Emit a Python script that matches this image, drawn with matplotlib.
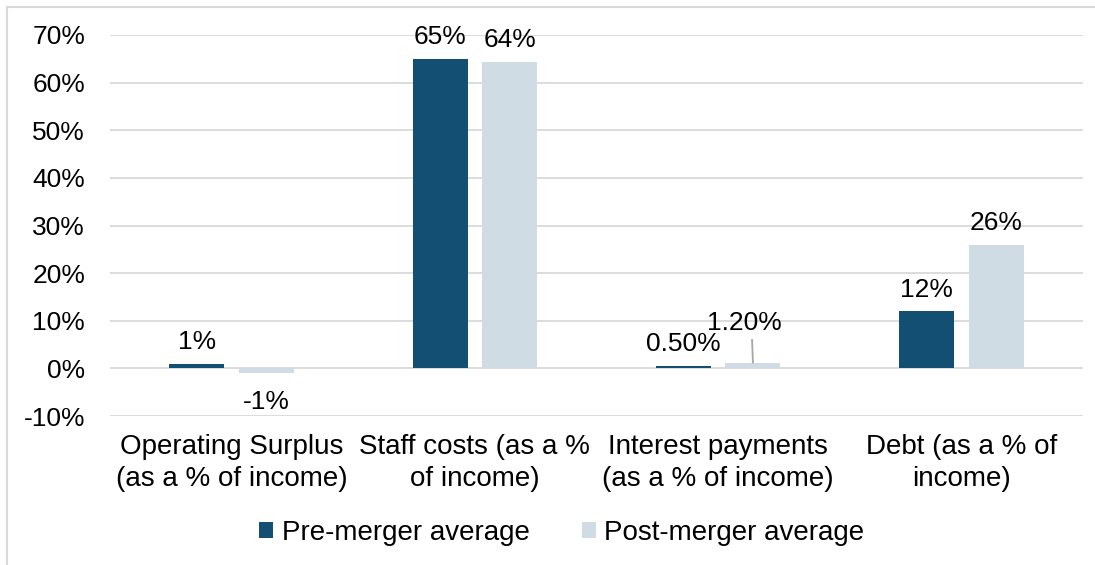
import matplotlib
matplotlib.use("Agg")
import matplotlib.pyplot as plt
from matplotlib.lines import Line2D
import numpy as np

categories = ["Operating Surplus\n(as a % of income)", "Staff costs (as a %\nof income)",
              "Interest payments\n(as a % of income)", "Debt (as a % of\nincome)"]
pre_values = [1.0, 65.0, 0.5, 12.0]
post_values = [-1.0, 64.4, 1.2, 26.0]
pre_labels = ["1%", "65%", "0.50%", "12%"]
post_labels = ["-1%", "64%", "1.20%", "26%"]
series_names = ["Pre-merger average", "Post-merger average"]
yticks = [-10, 0, 10, 20, 30, 40, 50, 60, 70]

plt.rcParams['font.family'] = ['Liberation Sans', 'DejaVu Sans']
PRE = "#134F73"
POST = "#D0DCE3"
GRID = "#D9D9D9"
FS_TICK = 19
FS_CAT = 20
FS_DATA = 19
FS_LEG = 20

fig = plt.figure(figsize=(10.95, 5.65), dpi=100)
ax = fig.add_axes([110/1095, 1-416/565, (1083-110)/1095, (416-35)/565])

x = np.arange(len(categories))
w = 0.226
off = 0.143
b1 = ax.bar(x - off, pre_values, w, color=PRE, label=series_names[0], zorder=3)
b2 = ax.bar(x + off, post_values, w, color=POST, label=series_names[1], zorder=3)

ax.set_xlim(-0.5, 3.5)
ax.set_ylim(-10, 70)
ax.set_yticks(yticks)
ax.set_yticklabels([f"{t}%" for t in yticks], fontsize=FS_TICK)
ax.set_xticks(x)
ax.set_xticklabels(categories, fontsize=FS_CAT, linespacing=1.3)
ax.tick_params(length=0)
ax.tick_params(axis='y', pad=18)
ax.tick_params(axis='x', pad=13)
for s in ax.spines.values():
    s.set_visible(False)
ax.grid(axis='y', color=GRID, linewidth=1.3, zorder=0)
ax.set_axisbelow(True)

for i, (bar, lab) in enumerate(zip(b1, pre_labels)):
    v = pre_values[i]
    ax.annotate(lab, (bar.get_x() + bar.get_width()/2, v), xytext=(0, 7),
                textcoords='offset points', ha='center', va='bottom', fontsize=FS_DATA)
for i, (bar, lab) in enumerate(zip(b2, post_labels)):
    v = post_values[i]
    cx = bar.get_x() + bar.get_width()/2
    if v < 0:
        ax.annotate(lab, (cx, v), xytext=(0, -12), textcoords='offset points',
                    ha='center', va='top', fontsize=FS_DATA)
    elif i == 2:
        ax.annotate(lab, (cx, v), xytext=(-6, 20), textcoords='offset points',
                    ha='center', va='bottom', fontsize=FS_DATA,
                    arrowprops=dict(arrowstyle='-', color='#A6A6A6', lw=1.3,
                                    patchA=None, shrinkA=0, shrinkB=0,
                                    relpos=(0.6, -0.2)))
    else:
        ax.annotate(lab, (cx, v), xytext=(0, 7), textcoords='offset points',
                    ha='center', va='bottom', fontsize=FS_DATA)

leg = fig.legend(handles=[b1, b2], labels=series_names, loc='center',
                 bbox_to_anchor=(562/1095, 1-533/565), ncol=2, frameon=False,
                 fontsize=FS_LEG, handlelength=0.5, handleheight=0.5,
                 handletextpad=0.3, columnspacing=1.9)

fig.lines.append(Line2D([6.5/1095, 6.5/1095], [0, 1-7/565], transform=fig.transFigure,
                        color=GRID, linewidth=1.5))
fig.lines.append(Line2D([6.5/1095, 1], [1-7/565, 1-7/565], transform=fig.transFigure,
                        color=GRID, linewidth=1.5))

fig.savefig("out.png", dpi=100)
